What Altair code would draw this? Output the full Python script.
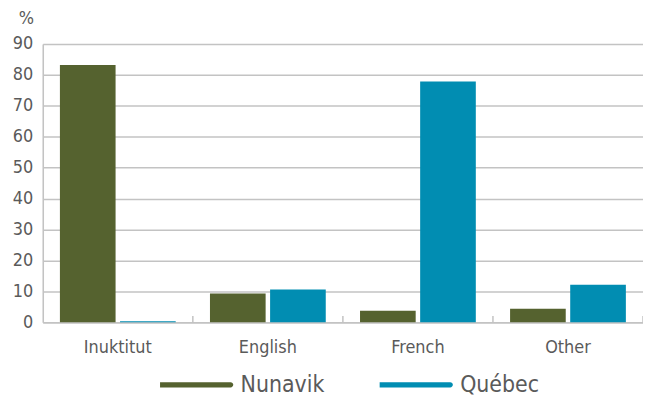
import altair as alt
import pandas as pd

categories = ["Inuktitut", "English", "French", "Other"]
series = ["Nunavik", "Québec"]
nunavik = [83.2, 9.3, 3.7, 4.4]
quebec = [0.3, 10.6, 77.9, 12.1]
colors = ["#55622f", "#018db2"]

rows = []
for c, n, q in zip(categories, nunavik, quebec):
    rows.append({"lang": c, "region": series[0], "value": n})
    rows.append({"lang": c, "region": series[1], "value": q})
df = pd.DataFrame(rows)

FONT = "DejaVu Sans Condensed, sans-serif"
GRID = "#c3c3c3"
TEXT = "#5a5a5a"

capsule = "M-1,-0.075 L1,-0.075 A0.075,0.075 0 0 1 1,0.075 L-1,0.075 A0.075,0.075 0 0 1 -1,-0.075 Z"

xscale = alt.Scale(domain=categories, paddingInner=0, paddingOuter=0)
yscale = alt.Scale(domain=[0, 90])

xaxis = alt.Axis(title=None, labelAngle=0, ticks=False, domain=True,
                 domainColor=GRID, domainWidth=1.5, labelPadding=16,
                 labelFontSize=18, labelColor=TEXT, labelFont=FONT)
yaxis = alt.Axis(title="%", titleAngle=0, titleX=-17, titleY=-21,
                 titleAlign="center", titleBaseline="alphabetic",
                 titleFontSize=18, titleFontWeight="normal", titleColor=TEXT,
                 titleFont=FONT, values=list(range(0, 91, 10)),
                 tickCount=10, labelOverlap=False,
                 ticks=False, domain=True, domainColor=GRID, domainWidth=1.5,
                 grid=True, gridColor=GRID, gridWidth=1.5,
                 labelPadding=10, labelFontSize=18, labelColor=TEXT,
                 labelFont=FONT)

bars = alt.Chart(df).mark_bar().encode(
    x=alt.X("lang:N", scale=xscale, sort=categories, axis=xaxis),
    xOffset=alt.XOffset("region:N", sort=series,
                        scale=alt.Scale(paddingInner=0.0744, paddingOuter=0.285)),
    y=alt.Y("value:Q", scale=yscale, axis=yaxis),
    color=alt.Color("region:N", sort=series,
                    scale=alt.Scale(domain=series, range=colors),
                    legend=alt.Legend(title=None, orient="none", direction="horizontal",
                                      legendX=118, legendY=331,
                                      symbolType=capsule, symbolSize=5041,
                                      clipHeight=24,
                                      symbolStrokeWidth=0, symbolOpacity=1,
                                      labelFontSize=23, labelColor=TEXT, labelFont=FONT,
                                      labelOffset=10, columnPadding=55)),
)

tick_df = pd.DataFrame({"lang": ["English", "French", "Other"], "y0": [0, 0, 0], "y1": [2, 2, 2]})
tick_end = pd.DataFrame({"lang": ["Other"], "y0": [0], "y1": [2]})

ticks_a = alt.Chart(tick_df).mark_rule(color=GRID, strokeWidth=1.5).encode(
    x=alt.X("lang:N", scale=xscale, sort=categories, bandPosition=0, axis=xaxis),
    y=alt.Y("y0:Q", scale=yscale, axis=yaxis),
    y2="y1:Q",
)
ticks_b = alt.Chart(tick_end).mark_rule(color=GRID, strokeWidth=1.5).encode(
    x=alt.X("lang:N", scale=xscale, sort=categories, bandPosition=1, axis=xaxis),
    y=alt.Y("y0:Q", scale=yscale, axis=yaxis),
    y2="y1:Q",
)

chart = alt.layer(bars, ticks_a, ticks_b).properties(
    width=604, height=280,
    autosize=alt.AutoSizeParams(type="none"),
    padding={"left": 35, "top": 35, "right": 0, "bottom": 76},
).configure_view(stroke=None).configure(font=FONT)

chart.save("out.html", embed_options={"renderer": "svg", "actions": False})
